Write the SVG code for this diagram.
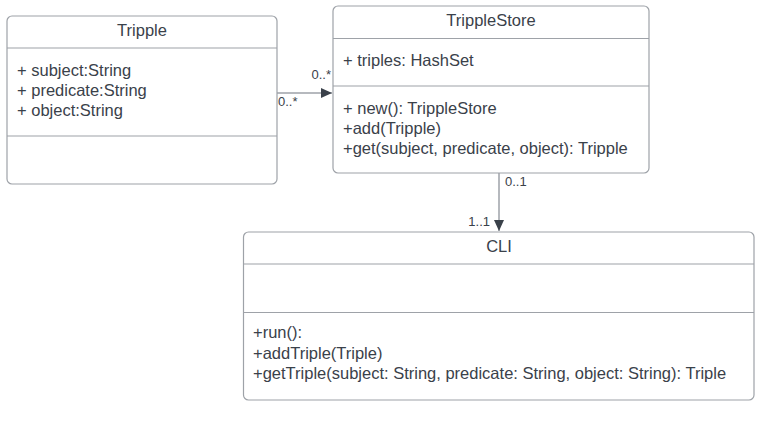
<svg xmlns="http://www.w3.org/2000/svg" width="770" height="423" viewBox="0 0 770 423">
<defs>
<marker id="arr" markerWidth="12" markerHeight="10" refX="11" refY="5" orient="auto" markerUnits="userSpaceOnUse">
<path d="M0,0 L11,5 L0,10 Z" fill="#3a414a"/>
</marker>
</defs>
<style>
.box{fill:#ffffff;stroke:#9ea2a8;stroke-width:1.2}
.div{stroke:#9ea2a8;stroke-width:1.2}
.t{font-family:"Liberation Sans",Arial,sans-serif;font-size:16.5px;fill:#3a414a}
.c{text-anchor:middle}
.lbl{font-family:"Liberation Sans",Arial,sans-serif;font-size:13px;fill:#3a414a}
.edge{stroke:#9ea2a8;stroke-width:1.5;fill:none}
</style>
<rect width="770" height="423" fill="#ffffff"/>
<g id="Tripple">
<rect class="box" x="7" y="16" width="270" height="168" rx="5"/>
<line class="div" x1="7" y1="48" x2="277" y2="48"/>
<line class="div" x1="7" y1="136" x2="277" y2="136"/>
<text class="t c" x="142" y="36">Tripple</text>
<text class="t" x="17" y="76">+ subject:String</text>
<text class="t" x="17" y="96">+ predicate:String</text>
<text class="t" x="17" y="116">+ object:String</text>
</g>
<g id="TrippleStore">
<rect class="box" x="333" y="6" width="316" height="167" rx="5"/>
<line class="div" x1="333" y1="38.5" x2="649" y2="38.5"/>
<line class="div" x1="333" y1="86" x2="649" y2="86"/>
<text class="t c" x="491" y="26">TrippleStore</text>
<text class="t" x="343" y="66">+ triples: HashSet</text>
<text class="t" x="343" y="114">+ new(): TrippleStore</text>
<text class="t" x="343" y="134">+add(Tripple)</text>
<text class="t" x="343" y="154">+get(subject, predicate, object): Tripple</text>
</g>
<g id="CLI">
<rect class="box" x="243.5" y="232" width="510.5" height="168" rx="5"/>
<line class="div" x1="243.5" y1="264" x2="754" y2="264"/>
<line class="div" x1="243.5" y1="312.5" x2="754" y2="312.5"/>
<text class="t c" x="499" y="252">CLI</text>
<text class="t" x="253" y="338">+run():</text>
<text class="t" x="253" y="359">+addTriple(Triple)</text>
<text class="t" x="253" y="379">+getTriple(subject: String, predicate: String, object: String): Triple</text>
</g>
<g id="connectors">
<line class="edge" x1="277" y1="93" x2="332" y2="93" marker-end="url(#arr)"/>
<text class="lbl" x="278" y="106">0..*</text>
<text class="lbl" x="331" y="79" text-anchor="end">0..*</text>
<line class="edge" x1="499" y1="173" x2="499" y2="231" marker-end="url(#arr)"/>
<text class="lbl" x="505" y="186">0..1</text>
<text class="lbl" x="490" y="226" text-anchor="end">1..1</text>
</g>
</svg>
